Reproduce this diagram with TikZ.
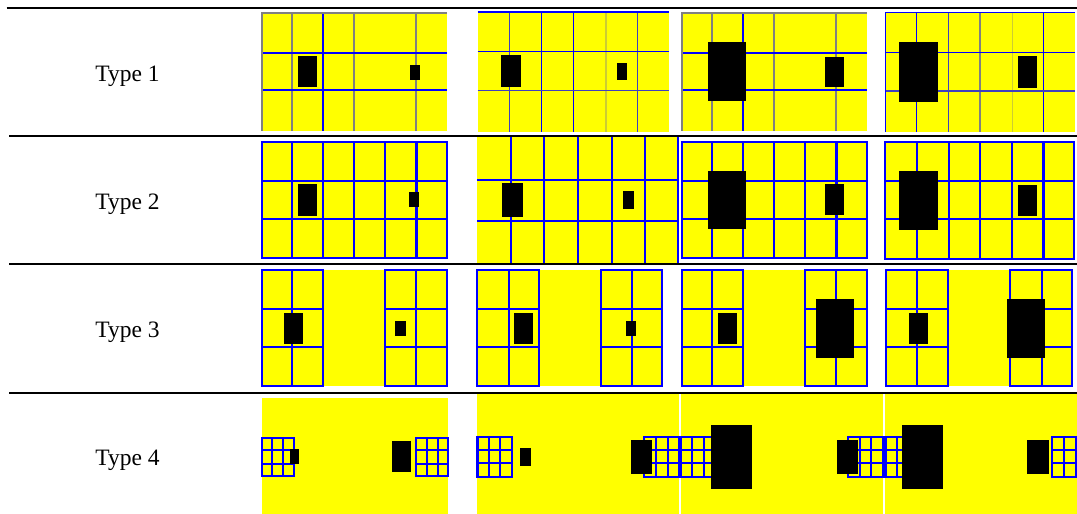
\documentclass[tikz,border=0pt]{standalone}
\usepackage{fontspec}
\setmainfont{Liberation Serif}
\usepackage{tikz}
\definecolor{pyellow}{RGB}{255,255,0}
\definecolor{pblue}{RGB}{0,0,255}
\definecolor{pgray}{RGB}{128,128,128}
\begin{document}
\begin{tikzpicture}[x=1pt, y=-1pt,
    panel/.style={fill=pyellow},
    bl/.style={draw=pblue, line width=1.2pt},
    blt/.style={draw=pblue, line width=1.9pt},
    gl/.style={draw=pgray, line width=1.5pt},
    mixl/.style={draw=pblue!50!pgray, line width=1.4pt},
    faint/.style={draw=pyellow!60!pgray, line width=1.1pt},
    mgrid/.style={draw=pblue, line width=2.2pt},
    blk/.style={fill=black},
    rule/.style={line width=2.3pt},
    lbl/.style={anchor=base, font=\fontsize{23.5}{28}\selectfont},
]
\useasboundingbox (0,0) rectangle (1077,514);

% Row labels
\node[lbl] (t1) at (127.5,81.7) {Type 1};
\node[lbl] (t2) at (127.5,209.5) {Type 2};
\node[lbl] (t3) at (127.5,337.3) {Type 3};
\node[lbl] (t4) at (127.5,465) {Type 4};

% Type 1
\fill[panel] (262,13) rectangle (447,131);
\foreach \x in {292,354,416} \draw[gl] (\x,13) -- (\x,131);
\draw[bl] (323,13) -- (323,131);
\foreach \y in {53,90} \draw[bl] (262,\y) -- (447,\y);
\draw[gl] (262,131) -- (262,13) -- (447,13);
\fill[blk] (298,56) rectangle (317,87);
\fill[blk] (409.5,64.5) rectangle (419.5,79.5);

\fill[panel] (477.5,12) rectangle (669,131.5);
\foreach \x in {509.5,637.5} \draw[mixl] (\x,12) -- (\x,131.5);
\foreach \x in {541.5,573.5} \draw[bl] (\x,12) -- (\x,131.5);
\draw[faint] (606,12) -- (606,131.5);
\draw[bl] (477.5,51.7) -- (669,51.7);
\draw[mixl] (477.5,90.7) -- (669,90.7);
\draw[bl] (477.5,12) -- (669,12);
\fill[blk] (500.7,55.3) rectangle (521,87.3);
\fill[blk] (616.7,63) rectangle (627,79.7);

\fill[panel] (682,13) rectangle (867,131);
\foreach \x in {712,774,836} \draw[gl] (\x,13) -- (\x,131);
\draw[bl] (743,13) -- (743,131);
\foreach \y in {53,90} \draw[bl] (682,\y) -- (867,\y);
\draw[gl] (682,131) -- (682,13) -- (867,13);
\fill[blk] (708.3,42.3) rectangle (746,101.3);
\fill[blk] (824.7,56.7) rectangle (844.3,87.3);

\fill[panel] (885.5,12.3) rectangle (1075,131.7);
\foreach \x in {916.3,1043.3} \draw[bl] (\x,12.3) -- (\x,131.7);
\draw[mixl] (948.3,12.3) -- (948.3,131.7);
\draw[gl] (980,12.3) -- (980,131.7);
\draw[faint] (1012.3,12.3) -- (1012.3,131.7);
\draw[bl] (885.5,52.3) -- (1075,52.3);
\draw[mixl] (885.5,91) -- (1075,91);
\draw[bl] (885.5,131.7) -- (885.5,12.3) -- (1075,12.3);
\fill[blk] (899,42) rectangle (937.7,101.7);
\fill[blk] (1017.7,56) rectangle (1037.3,87.7);

% Type 2
\fill[panel] (262,141.7) rectangle (446.7,258);
\foreach \x in {292.3,323.3,354,385} \draw[blt] (\x,141.7) -- (\x,258);
\draw[blt, line width=2.6pt] (416.3,141.7) -- (416.3,258);
\foreach \y in {180.7,219} \draw[blt] (262,\y) -- (446.7,\y);
\draw[blt] (262,141.7) rectangle (446.7,258);
\fill[blk] (297.7,184.3) rectangle (317.3,215.7);
\fill[blk] (409.3,192.3) rectangle (419.3,207.3);

\fill[panel] (477.3,136.7) rectangle (678,263.3);
\foreach \x in {511,544.3,577.7,611.7,645} \draw[blt, line width=2.3pt] (\x,136.7) -- (\x,263.3);
\foreach \y in {180,220.7} \draw[blt, line width=2.3pt] (477.3,\y) -- (678,\y);
\draw[bl] (678,136.7) -- (678,263.3);
\fill[blk] (501.7,182.7) rectangle (523.3,216.7);
\fill[blk] (623,191) rectangle (634,208.7);

\fill[panel] (681.7,141.7) rectangle (866.7,258);
\foreach \x in {712.3,743.3,774,805} \draw[blt] (\x,141.7) -- (\x,258);
\draw[blt, line width=2.6pt] (836.3,141.7) -- (836.3,258);
\foreach \y in {180.7,219} \draw[blt] (681.7,\y) -- (866.7,\y);
\draw[blt] (681.7,141.7) rectangle (866.7,258);
\fill[blk] (708.3,170.7) rectangle (746,229.3);
\fill[blk] (825,184.3) rectangle (844.3,215.3);

\fill[panel] (885.3,141.7) rectangle (1074.3,259);
\foreach \x in {917.3,948.7,980,1011.7} \draw[blt] (\x,141.7) -- (\x,259);
\draw[blt, line width=2.6pt] (1043.3,141.7) -- (1043.3,259);
\foreach \y in {181,219.3} \draw[blt] (885.3,\y) -- (1074.3,\y);
\draw[blt] (885.3,141.7) rectangle (1074.3,259);
\fill[blk] (899,171) rectangle (937.7,230);
\fill[blk] (1017.7,185) rectangle (1037.3,216);

% Type 3
\fill[panel] (261.7,270.3) rectangle (446.7,386.3);
\draw[blt] (261.7,270.3) rectangle (323.3,386.3) (292.3,270.3) -- (292.3,386.3);
\draw[blt] (385,270.3) rectangle (446.7,386.3) (416.3,270.3) -- (416.3,386.3);
\foreach \y in {309.3,347.3} \draw[blt] (261.7,\y) -- (323.3,\y) (385,\y) -- (446.7,\y);
\fill[blk] (284,313) rectangle (303.3,343.7);
\fill[blk] (395.3,321) rectangle (405.7,335.7);

\fill[panel] (477.3,270.3) rectangle (662.3,386.3);
\draw[blt] (477.3,270.3) rectangle (539,386.3) (509,270.3) -- (509,386.3);
\draw[blt] (600.7,270.3) rectangle (662.3,386.3) (632.3,270.3) -- (632.3,386.3);
\foreach \y in {309.3,347.3} \draw[blt] (477.3,\y) -- (539,\y) (600.7,\y) -- (662.3,\y);
\fill[blk] (514,313) rectangle (533.3,343.7);
\fill[blk] (625.7,321) rectangle (635.7,335.7);

\fill[panel] (681.7,270.3) rectangle (866.7,386.3);
\draw[blt] (681.7,270.3) rectangle (743.3,386.3) (712.3,270.3) -- (712.3,386.3);
\draw[blt] (805,270.3) rectangle (866.7,386.3) (836.3,270.3) -- (836.3,386.3);
\foreach \y in {309.3,347.3} \draw[blt] (681.7,\y) -- (743.3,\y) (805,\y) -- (866.7,\y);
\fill[blk] (717.7,313) rectangle (737.3,343.7);
\fill[blk] (815.7,299) rectangle (853.7,358);

\fill[panel] (886,270.3) rectangle (1071.7,386.3);
\draw[blt] (886,270.3) rectangle (948.3,386.3) (917.3,270.3) -- (917.3,386.3);
\draw[blt] (1009.7,270.3) rectangle (1071.7,386.3) (1041.7,270.3) -- (1041.7,386.3);
\foreach \y in {309.3,347.3} \draw[blt] (886,\y) -- (948.3,\y) (1009.7,\y) -- (1071.7,\y);
\fill[blk] (908.7,313) rectangle (928.3,343.7);
\fill[blk] (1006.7,299) rectangle (1045,358);

% Type 4
\fill[panel] (261.7,398) rectangle (448,514);
\draw[mgrid] (261.7,438) rectangle (294,476);
\foreach \x in {272.3,283.3} \draw[mgrid] (\x,438) -- (\x,476);
\foreach \y in {450.3,463.7} \draw[mgrid] (261.7,\y) -- (294,\y);
\draw[mgrid] (416.3,438) rectangle (448,476);
\foreach \x in {427.3,438} \draw[mgrid] (\x,438) -- (\x,476);
\foreach \y in {450.3,463.7} \draw[mgrid] (416.3,\y) -- (448,\y);
\fill[blk] (289.7,449.3) rectangle (299.3,464.3);
\fill[blk] (391.7,441.3) rectangle (411,472.3);

\fill[panel] (477.3,394) rectangle (679,514);
\draw[mgrid] (477.5,436.7) rectangle (511.7,476.7);
\foreach \x in {488.7,500.3} \draw[mgrid] (\x,436.7) -- (\x,476.7);
\foreach \y in {450,463.3} \draw[mgrid] (477.5,\y) -- (511.7,\y);
\draw[mgrid] (644.3,436.7) rectangle (679,476.7);
\foreach \x in {656,667.7} \draw[mgrid] (\x,436.7) -- (\x,476.7);
\foreach \y in {450,463.3} \draw[mgrid] (644.3,\y) -- (679,\y);
\fill[blk] (520,448) rectangle (531,465.7);
\fill[blk] (631,440) rectangle (652.3,473.7);

\fill[panel] (680.7,394) rectangle (883.3,514);
\draw[mgrid] (680.7,436.7) rectangle (715.7,476.7);
\foreach \x in {692.3,704} \draw[mgrid] (\x,436.7) -- (\x,476.7);
\foreach \y in {450,463.3} \draw[mgrid] (680.7,\y) -- (715.7,\y);
\draw[mgrid] (848,436.7) rectangle (883,476.7);
\foreach \x in {859.7,871.3} \draw[mgrid] (\x,436.7) -- (\x,476.7);
\foreach \y in {450,463.3} \draw[mgrid] (848,\y) -- (883,\y);
\fill[blk] (710.7,425) rectangle (752,488.7);
\fill[blk] (836.7,440) rectangle (858.3,473.7);

\fill[panel] (885,394) rectangle (1077,514);
\draw[mgrid] (885.5,436.7) rectangle (920,476.7);
\foreach \x in {896.7,908.3} \draw[mgrid] (\x,436.7) -- (\x,476.7);
\foreach \y in {450,463.3} \draw[mgrid] (885.5,\y) -- (920,\y);
\draw[mgrid] (1077,436.7) -- (1052.3,436.7) -- (1052.3,476.7) -- (1077,476.7);
\foreach \x in {1064,1075.7} \draw[mgrid] (\x,436.7) -- (\x,476.7);
\foreach \y in {450,463.3} \draw[mgrid] (1052.3,\y) -- (1077,\y);
\fill[blk] (901.7,425) rectangle (942.7,488.7);
\fill[blk] (1027.3,440) rectangle (1049,473.7);

% Rules
\draw[rule] (6.7,7.7) -- (1077,7.7);
\draw[rule, line width=2pt] (9,135.7) -- (1077,135.7);
\draw[rule, line width=2pt] (9,264) -- (1077,264);
\draw[rule, line width=2pt] (9,393) -- (1077,393);
\end{tikzpicture}
\end{document}
